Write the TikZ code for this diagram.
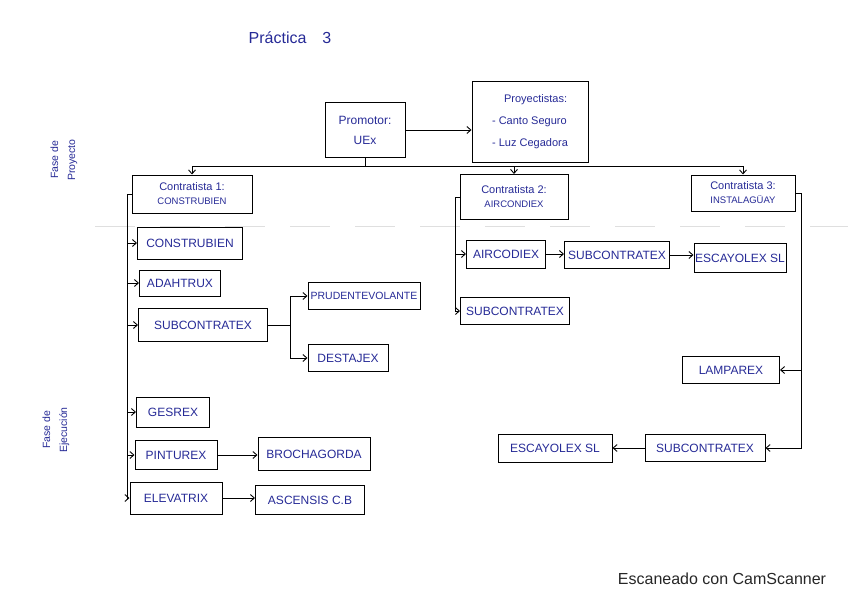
\documentclass[tikz,border=0pt]{standalone}
\usepackage{fontspec}
\setmainfont{Liberation Sans}
\usetikzlibrary{arrows.meta}
\definecolor{ink}{RGB}{38,42,150}
\begin{document}
\begin{tikzpicture}[x=1pt,y=-1pt,>={Straight Barb[length=4pt,width=7pt]},
  box/.style={draw,line width=1pt,inner sep=1pt,text=ink,font=\fontsize{12}{14}\selectfont},
  lnk/.style={line width=0.9pt}]
\useasboundingbox (0,0) rectangle (848,599);
\draw[gray!25,line width=0.8pt,dash pattern=on 40pt off 25pt] (95,226) -- (848,226);
\node[text=ink,font=\fontsize{16}{18}\selectfont] (titulo) at (290,38) {Práctica\quad 3};
\node[rotate=90,text=ink,align=center,font=\fontsize{10.5}{17}\selectfont] (fproy) at (64,160) {Fase de\\Proyecto};
\node[rotate=90,text=ink,align=center,font=\fontsize{10.5}{17}\selectfont] (fejec) at (56,430) {Fase de\\Ejecución};
\node[box,align=center,minimum width=80,minimum height=55,font=\fontsize{12}{20}\selectfont] (promotor) at (365,130) {Promotor:\\UEx};
\node[box,align=left,minimum width=116,minimum height=81,font=\fontsize{11}{22}\selectfont] (proyect) at (530,122) {\hspace*{12pt}Proyectistas:\\- Canto Seguro\\- Luz Cegadora};
\foreach \n/\x/\y/\w/\h/\k/\t in {c1/192/194/120/38/1/CONSTRUBIEN,c2/514/197/108/45/2/AIRCONDIEX,c3/743/193/104/36/3/INSTALAGÜAY}
  \node[box,align=center,minimum width=\w,minimum height=\h] (\n) at (\x,\y) {{\fontsize{11}{14}\selectfont Contratista \k:}\\{\fontsize{9.5}{12}\selectfont \t}};
\foreach \n/\x/\y/\w/\h/\t in {construbien/190/243/105/32/CONSTRUBIEN,adahtrux/180/283/81/26/ADAHTRUX,subc1/203/325/129/33/SUBCONTRATEX,
  prudente/364/296/112/27/{\fontsize{10.5}{12}\selectfont PRUDENTEVOLANTE},destajex/348/358/80/27/DESTAJEX,gesrex/173/412/73/30/GESREX,
  pinturex/176/455/82/29/PINTUREX,brocha/314/454/112/33/BROCHAGORDA,elevatrix/176/498/92/32/ELEVATRIX,ascensis/310/500/109/29/ASCENSIS C.B,
  aircodiex/506/254/79/28/AIRCODIEX,subc2/617/255/105/27/SUBCONTRATEX,escayolex1/740/258/92/29/ESCAYOLEX SL,subc3/515/311/109/27/SUBCONTRATEX,
  lamparex/731/370/97/27/LAMPAREX,subc4/705/448/120/27/SUBCONTRATEX,escayolex2/555/448/114/28/ESCAYOLEX SL}
  \node[box,minimum width=\w,minimum height=\h] (\n) at (\x,\y) {\t};
\coordinate (bus) at (365,166);
\coordinate (t1) at (127,194);
\coordinate (t2) at (455,197);
\coordinate (t3) at (801,193);
\coordinate (s1) at (290,325);
\draw[lnk,->] (promotor.east) -- (promotor.east -| proyect.west);
\foreach \c in {c1,c2,c3} \draw[lnk,->] (promotor.south) -- (bus) -| (\c.north);
\draw[lnk] (c1.west) -- (t1);
\foreach \n in {construbien,adahtrux,subc1,gesrex,pinturex,elevatrix} \draw[lnk,->] (t1) |- (\n.west);
\draw[lnk] (subc1.east) -- (s1);
\foreach \n in {prudente,destajex} \draw[lnk,->] (s1) |- (\n.west);
\draw[lnk,->] (pinturex.east) -- (pinturex.east -| brocha.west);
\draw[lnk,->] (elevatrix.east) -- (elevatrix.east -| ascensis.west);
\draw[lnk] (c2.west) -- (t2);
\foreach \n in {aircodiex,subc3} \draw[lnk,->] (t2) |- (\n.west);
\draw[lnk,->] (aircodiex.east) -- (aircodiex.east -| subc2.west);
\draw[lnk,->] (subc2.east) -- (subc2.east -| escayolex1.west);
\draw[lnk] (c3.east) -- (t3);
\foreach \n in {lamparex,subc4} \draw[lnk,->] (t3) |- (\n.east);
\draw[lnk,->] (subc4.west) -- (escayolex2.east);
\node[font=\fontsize{16}{18}\selectfont,text=black!85] (scan) at (722,579) {Escaneado con CamScanner};
\end{tikzpicture}
\end{document}
